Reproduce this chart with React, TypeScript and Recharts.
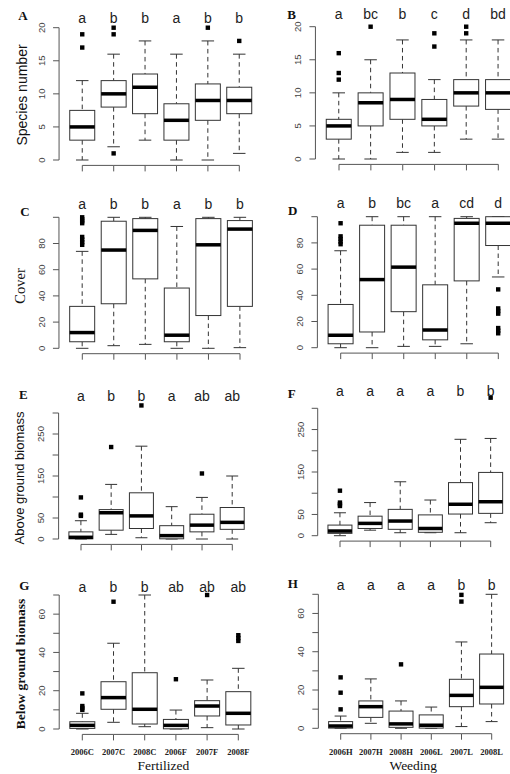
import React from 'react';
import { ComposedChart, Bar, XAxis, YAxis, LabelList } from 'recharts';

const PAGE_W = 510;
const PAGE_H = 774;
const CHART_W = 540;
const X_AXIS_H = 30;
const Y_AXIS_W = 40;
const AXIS_GAP = 5.4; // R leaves 4% of the y range between the lowest value and the x axis
const SANS = '"Liberation Sans", Arial, Helvetica, sans-serif';
const SERIF = '"Liberation Serif", "Times New Roman", Times, serif';

const fertilized = ['2006C', '2007C', '2008C', '2006F', '2007F', '2008F'];
const weeding = ['2006H', '2007H', '2008H', '2006L', '2007L', '2008L'];

// each box: [lower whisker, Q1, median, Q3, upper whisker]
const speciesFert = [
  [0, 3, 5, 7.5, 12],
  [2, 8, 10, 12, 16],
  [3, 7, 11, 13, 18],
  [0, 3, 6, 8.5, 16],
  [0, 6, 9, 11.5, 18],
  [1, 7, 9, 11, 16],
];
const speciesFertOut = [[17, 19], [1, 19, 20], [], [], [20], [18]];
const speciesFertGroups = ['a', 'b', 'b', 'a', 'b', 'b'];

const speciesWeed = [
  [0, 3, 5, 6, 10],
  [0, 5, 8.5, 10, 15],
  [1, 6, 9, 13, 18],
  [1, 5, 6, 9, 12],
  [3, 8, 10, 12, 18],
  [3, 7.5, 10, 12, 18],
];
const speciesWeedOut = [[12, 13, 16], [20], [], [17, 19], [19, 20], []];
const speciesWeedGroups = ['a', 'bc', 'b', 'c', 'd', 'bd'];

const coverFert = [
  [0, 5, 12, 32, 74],
  [2, 34, 75, 97, 100],
  [3, 53, 90, 99, 100],
  [0, 5, 10, 46, 93],
  [0, 25, 79, 99, 100],
  [0.5, 32, 91, 97.5, 100],
];
const coverFertOut = [[79, 81, 83, 85, 95.5, 97, 98.5, 100], [], [], [], [], []];
const coverFertGroups = ['a', 'b', 'b', 'a', 'b', 'b'];

const coverWeed = [
  [0, 3, 9.5, 33, 74],
  [0, 12, 52, 93.5, 100],
  [1, 27.5, 61.5, 93.5, 100],
  [1, 6, 13.5, 48, 100],
  [3, 51, 95, 98.7, 100],
  [54, 78, 95, 100, 100],
];
const coverWeedOut = [[79, 81, 83, 85, 95], [], [], [], [], [44.5, 26, 28, 30, 11, 13, 15]];
const coverWeedGroups = ['a', 'b', 'bc', 'a', 'cd', 'd'];

const aboveFert = [
  [0, 0.5, 4, 17, 43.5],
  [11, 21, 62.5, 70, 130],
  [3, 25, 55, 110, 221],
  [0, 0.5, 8, 31.7, 77],
  [0, 17, 33, 59, 99],
  [0, 23, 39.6, 75, 150],
];
const aboveFertOut = [[55, 58, 99], [219], [318], [], [156], []];
const aboveFertGroups = ['a', 'b', 'b', 'a', 'ab', 'ab'];

const aboveWeed = [
  [0, 5.5, 11, 25, 54],
  [13, 17, 29, 46, 78],
  [7, 15, 34.5, 62, 127],
  [7, 8, 17, 49, 84],
  [7, 51, 74, 125, 227],
  [30.6, 52.6, 80, 149, 229],
];
const aboveWeedOut = [[70, 74, 78, 106], [], [], [], [], [325]];
const aboveWeedGroups = ['a', 'a', 'a', 'a', 'b', 'b'];

const belowFert = [
  [0, 0.3, 1.9, 3.8, 8.2],
  [3.5, 10.3, 16.4, 24.7, 44.8],
  [1.2, 2.6, 10.3, 29.4, 70],
  [0, 0.1, 1.9, 5, 9.9],
  [0.7, 6.8, 12, 14.8, 25.6],
  [0, 2.1, 8.2, 19.5, 31.7],
];
const belowFertOut = [[10, 11, 12, 18.6], [66.5], [], [26], [70], [46, 47.5, 49]];
const belowFertGroups = ['a', 'b', 'b', 'ab', 'ab', 'ab'];

const belowWeed = [
  [0, 0.1, 1.2, 3.5, 6.4],
  [2.6, 5.7, 11.3, 14.3, 25.8],
  [0, 0.5, 2.3, 9, 14.3],
  [0, 0.1, 1.6, 7, 11.1],
  [0.9, 11.3, 17.2, 25.6, 45.1],
  [3.5, 12.7, 21.4, 38.8, 70],
];
const belowWeedOut = [[9.9, 18.6, 26.6], [], [33.4], [], [66.2, 69.7], []];
const belowWeedGroups = ['a', 'a', 'a', 'a', 'b', 'b'];

const speciesTicks = [0, 5, 10, 15, 20];
const coverTicks = [0, 20, 40, 60, 80, 100];
const coverLabels = [0, 20, 40, 60, 80];
const biomassTicks = [0, 50, 100, 150, 200, 250, 300];
const biomassLabels = [0, 50, 150, 250];
const rootTicks = [0, 10, 20, 30, 40, 50, 60, 70];
const rootLabels = [0, 20, 40, 60];

type Row = { name: string; stats: number[]; outliers: number[]; group: string };

const makeRows = (cats: string[], stats: number[][], out: number[][], groups: string[]): Row[] =>
  cats.map((name, i) => ({ name, stats: stats[i], outliers: out[i], group: groups[i] }));

interface PanelSpec {
  tag: string;
  rows: Row[];
  ticks: number[];
  labels: number[];
  // pixel layout: first/last category centre, y of the axis min and max, y of the letters
  c1: number;
  c6: number;
  y0: number;
  yTop: number;
  letterY: number;
  showNames: boolean;
}

const panels: PanelSpec[] = [
  { tag: 'A', rows: makeRows(fertilized, speciesFert, speciesFertOut, speciesFertGroups), ticks: speciesTicks, labels: speciesTicks, c1: 82.3, c6: 239.3, y0: 160, yTop: 27.7, letterY: 18.3, showNames: false },
  { tag: 'B', rows: makeRows(weeding, speciesWeed, speciesWeedOut, speciesWeedGroups), ticks: speciesTicks, labels: speciesTicks, c1: 339, c6: 498.3, y0: 159, yTop: 26.7, letterY: 14.3, showNames: false },
  { tag: 'C', rows: makeRows(fertilized, coverFert, coverFertOut, coverFertGroups), ticks: coverTicks, labels: coverLabels, c1: 82.3, c6: 240, y0: 348.3, yTop: 217.3, letterY: 204, showNames: false },
  { tag: 'D', rows: makeRows(weeding, coverWeed, coverWeedOut, coverWeedGroups), ticks: coverTicks, labels: coverLabels, c1: 340.7, c6: 498.3, y0: 347.7, yTop: 216.7, letterY: 203.3, showNames: false },
  { tag: 'E', rows: makeRows(fertilized, aboveFert, aboveFertOut, aboveFertGroups), ticks: biomassTicks, labels: biomassLabels, c1: 81, c6: 232.3, y0: 539, yTop: 413, letterY: 396, showNames: false },
  { tag: 'F', rows: makeRows(weeding, aboveWeed, aboveWeedOut, aboveWeedGroups), ticks: biomassTicks, labels: biomassLabels, c1: 340, c6: 490.7, y0: 535.7, yTop: 408.3, letterY: 390.7, showNames: false },
  { tag: 'G', rows: makeRows(fertilized, belowFert, belowFertOut, belowFertGroups), ticks: rootTicks, labels: rootLabels, c1: 82.3, c6: 238.3, y0: 729, yTop: 595, letterY: 586.7, showNames: true },
  { tag: 'H', rows: makeRows(weeding, belowWeed, belowWeedOut, belowWeedGroups), ticks: rootTicks, labels: rootLabels, c1: 340.7, c6: 491.7, y0: 728.3, yTop: 594.3, letterY: 585, showNames: true },
];

// panel tags, y axis titles and x axis titles
const tags = [
  { text: 'A', x: 23, y: 15 },
  { text: 'B', x: 291.7, y: 14.3 },
  { text: 'C', x: 25, y: 211.7 },
  { text: 'D', x: 292.7, y: 210.7 },
  { text: 'E', x: 23.3, y: 394 },
  { text: 'F', x: 291.7, y: 393.3 },
  { text: 'G', x: 24.3, y: 585 },
  { text: 'H', x: 292.7, y: 583.3 },
];
const yTitles = [
  { text: 'Species number', x: 22, y: 95, font: SANS, size: 14, weight: 'normal' },
  { text: 'Cover', x: 20, y: 286, font: SERIF, size: 14.5, weight: 'normal' },
  { text: 'Above ground biomass', x: 19, y: 478, font: SANS, size: 13, weight: 'normal' },
  { text: 'Below ground biomass', x: 20, y: 664, font: SERIF, size: 13.5, weight: 'bold' },
];
const xTitles = [
  { text: 'Fertilized', x: 163.3, y: 765 },
  { text: 'Weeding', x: 413.3, y: 765 },
];

// box, dashed whiskers with staples, thick median and square outliers
function BoxShape(props: any) {
  const { x, y, width, height, payload } = props;
  const [lo, q1, med, q3, hi] = payload.stats;
  const top = Math.min(y, y + height);
  const bottom = Math.max(y, y + height);
  const k = (bottom - top) / (hi - lo);
  const py = (v: number) => bottom - (v - lo) * k;
  const cx = x + width / 2;
  const cap = width / 4;
  return (
    <g>
      <line x1={cx} x2={cx} y1={py(hi)} y2={py(q3)} stroke="#333" strokeDasharray="4.5 3.5" />
      <line x1={cx} x2={cx} y1={py(q1)} y2={py(lo)} stroke="#333" strokeDasharray="4.5 3.5" />
      <line x1={cx - cap} x2={cx + cap} y1={py(hi)} y2={py(hi)} stroke="#333" />
      <line x1={cx - cap} x2={cx + cap} y1={py(lo)} y2={py(lo)} stroke="#333" />
      <rect x={x} y={py(q3)} width={width} height={py(q1) - py(q3)} fill="#fff" stroke="#333" />
      <line x1={x} x2={x + width} y1={py(med)} y2={py(med)} stroke="#000" strokeWidth={3.5} />
      {payload.outliers.map((v: number, i: number) => (
        <rect key={i} x={cx - 2.2} y={py(v) - 2.2} width={4.4} height={4.4} fill="#000" />
      ))}
    </g>
  );
}

function Panel({ p }: { p: PanelSpec }) {
  const step = (p.c6 - p.c1) / 5;
  const plotLeft = p.c1 - 0.74 * step;
  const plotRight = p.c6 + 0.74 * step;
  const margin = {
    top: p.yTop,
    left: plotLeft - Y_AXIS_W,
    right: CHART_W - plotRight,
    bottom: PAGE_H - p.y0 - X_AXIS_H,
  };
  const last = p.rows.length - 1;

  const renderXTick = (props: any) => {
    const { x, y, payload, index } = props;
    const ay = y + AXIS_GAP;
    return (
      <g>
        <line x1={x} x2={x} y1={ay} y2={ay + 6} stroke="#555" />
        {index < last && <line x1={x} x2={x + step} y1={ay} y2={ay} stroke="#555" />}
        {p.showNames && (
          <text x={x} y={ay + 18} dy="0.35em" textAnchor="middle" fontFamily={SERIF} fontWeight="bold" fontSize={8.5} fill="#222">
            {payload.value}
          </text>
        )}
      </g>
    );
  };

  const renderYTick = (props: any) => {
    const { x, y, payload } = props;
    if (!p.labels.includes(payload.value)) return <g />;
    return (
      <text x={x} y={y} dy="0.35em" transform={`rotate(-90, ${x}, ${y})`} textAnchor="middle" fontFamily={SANS} fontSize={9.5} fill="#444">
        {payload.value}
      </text>
    );
  };

  const renderLetter = (props: any) => {
    const bx = props.viewBox?.x ?? props.x;
    const bw = props.viewBox?.width ?? props.width;
    return (
      <text x={Number(bx) + Number(bw) / 2} y={p.letterY} dy="0.35em" textAnchor="middle" fontFamily={SANS} fontSize={14} fill="#222">
        {props.value}
      </text>
    );
  };

  return (
    <div style={{ position: 'absolute', left: 0, top: 0 }}>
      <ComposedChart width={CHART_W} height={PAGE_H} data={p.rows} margin={margin} barCategoryGap="10%">
        <XAxis
          dataKey="name"
          type="category"
          height={X_AXIS_H}
          padding={{ left: 0.24 * step, right: 0.24 * step }}
          axisLine={false}
          tickLine={false}
          tickSize={0}
          tickMargin={0}
          interval={0}
          tick={renderXTick}
        />
        <YAxis
          type="number"
          domain={[p.ticks[0], p.ticks[p.ticks.length - 1]]}
          ticks={p.ticks}
          interval={0}
          width={Y_AXIS_W}
          axisLine={{ stroke: '#555' }}
          tickLine={{ stroke: '#555' }}
          tickSize={6}
          tickMargin={11.5}
          tick={renderYTick}
        />
        <Bar dataKey={(d: Row) => [d.stats[0], d.stats[4]]} shape={BoxShape} isAnimationActive={false}>
          <LabelList dataKey="group" content={renderLetter} />
        </Bar>
      </ComposedChart>
    </div>
  );
}

export default function App() {
  return (
    <div style={{ position: 'absolute', left: 0, top: 0, width: PAGE_W, height: PAGE_H, overflow: 'hidden', background: '#fff' }}>
      {panels.map((p) => (
        <Panel key={p.tag} p={p} />
      ))}
      <svg width={PAGE_W} height={PAGE_H} style={{ position: 'absolute', left: 0, top: 0, pointerEvents: 'none' }}>
        {tags.map((t) => (
          <text key={t.text} x={t.x} y={t.y} dy="0.35em" textAnchor="middle" fontFamily={SERIF} fontWeight="bold" fontSize={13} fill="#111">
            {t.text}
          </text>
        ))}
        {yTitles.map((t) => (
          <text
            key={t.text}
            x={t.x}
            y={t.y}
            dy="0.35em"
            transform={`rotate(-90, ${t.x}, ${t.y})`}
            textAnchor="middle"
            fontFamily={t.font}
            fontWeight={t.weight}
            fontSize={t.size}
            fill="#111"
          >
            {t.text}
          </text>
        ))}
        {xTitles.map((t) => (
          <text key={t.text} x={t.x} y={t.y} dy="0.35em" textAnchor="middle" fontFamily={SERIF} fontSize={13.5} fill="#111">
            {t.text}
          </text>
        ))}
      </svg>
    </div>
  );
}
